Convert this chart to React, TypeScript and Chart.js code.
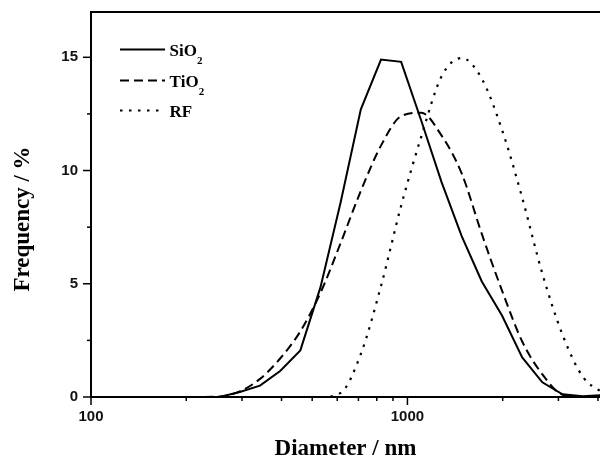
import React, { useEffect, useRef } from 'react';
import { Chart, registerables } from 'chart.js';

Chart.register(...registerables);

// Size bins (nm)
const sizes = [91.28, 105.7, 122.4, 141.8, 164.2, 190.1, 220.2, 255.0, 295.3, 342.0, 396.1, 458.7, 531.2, 615.1, 712.4, 825.0, 955.4, 1106, 1281, 1484, 1718, 1990, 2305, 2669, 3091, 3580, 4145];
// Frequency (%) per bin
const sio2 = [0, 0, 0, 0, 0, 0, 0, 0, 0.22, 0.5, 1.15, 2.06, 4.85, 8.6, 12.7, 14.9, 14.8, 12.2, 9.5, 7.1, 5.1, 3.6, 1.75, 0.65, 0.12, 0.03, 0.08];
const tio2 = [0, 0, 0, 0, 0, 0, 0, 0.02, 0.25, 0.8, 1.7, 2.9, 4.6, 6.8, 9.1, 11.1, 12.4, 12.55, 11.55, 9.87, 7.2, 4.7, 2.45, 1.0, 0.1, 0, 0];
const rf = [0, 0, 0, 0, 0, 0, 0, 0, 0, 0, 0, 0, 0, 0.18, 1.9, 4.9, 8.45, 11.5, 14.15, 14.97, 14.05, 11.8, 8.8, 5.45, 2.75, 0.9, 0.18];

const seriesLabels = ['SiO₂', 'TiO₂', 'RF'];
const xTickLabels = [100, 1000];
const yTickLabels = [0, 5, 10, 15];
const xTitle = 'Diameter / nm';
const yTitle = 'Frequency / %';

const SERIF = '"Liberation Serif", "Times New Roman", serif';
const SANS = '"Liberation Sans", Arial, sans-serif';
const SUBS = '₀₁₂₃₄₅₆₇₈₉';

const toPoints = (vals: number[]) => sizes.map((s, i) => ({ x: s, y: vals[i] }));

const decorPlugin = {
  id: 'decor',
  afterDraw(chart: any) {
    const { ctx, chartArea: a, scales } = chart;
    const xs = scales.x;
    const ys = scales.y;
    ctx.save();
    // top frame line
    ctx.strokeStyle = '#000';
    ctx.lineWidth = 2;
    ctx.setLineDash([]);
    ctx.beginPath();
    ctx.moveTo(a.left - 1, a.top);
    ctx.lineTo(a.right, a.top);
    ctx.stroke();

    // x ticks (major / minor)
    ctx.lineWidth = 1.5;
    xs.ticks.forEach((t: any) => {
      const v = t.value;
      const e = Math.floor(Math.log10(v) + 1e-9);
      const sig = v / Math.pow(10, e);
      if (Math.abs(sig - Math.round(sig)) > 1e-6) return;
      const major = Math.abs(sig - 1) < 1e-6;
      const px = xs.getPixelForValue(v);
      if (px > a.right + 0.5) return;
      ctx.beginPath();
      ctx.moveTo(px, a.bottom);
      ctx.lineTo(px, a.bottom + (major ? 8 : 4));
      ctx.stroke();
    });
    // y ticks
    ys.ticks.forEach((t: any) => {
      const v = t.value;
      if (Math.abs(v / 2.5 - Math.round(v / 2.5)) > 1e-6) return;
      const major = Math.abs(v / 5 - Math.round(v / 5)) < 1e-6;
      const py = ys.getPixelForValue(v);
      ctx.beginPath();
      ctx.moveTo(a.left, py);
      ctx.lineTo(a.left - (major ? 8 : 4), py);
      ctx.stroke();
    });

    // legend
    const rowY = [a.top + 37.5, a.top + 68.5, a.top + 98.5];
    chart.data.datasets.forEach((ds: any, i: number) => {
      const y = rowY[i];
      ctx.strokeStyle = ds.borderColor;
      ctx.lineWidth = ds.borderWidth;
      ctx.lineCap = 'butt';
      ctx.setLineDash(ds.borderDash || []);
      ctx.beginPath();
      ctx.moveTo(a.left + 29, y);
      ctx.lineTo(a.left + 74, y);
      ctx.stroke();
      ctx.setLineDash([]);
      ctx.fillStyle = '#000';
      ctx.textAlign = 'left';
      ctx.textBaseline = 'alphabetic';
      let x = a.left + 78.5;
      const base = y + 6;
      const label: string = ds.label;
      for (const ch of Array.from(label)) {
        const si = SUBS.indexOf(ch);
        if (si >= 0) {
          ctx.font = `bold 11px ${SERIF}`;
          const d = String(si);
          ctx.fillText(d, x, base + 8);
          x += ctx.measureText(d).width;
        } else {
          ctx.font = `bold 17px ${SERIF}`;
          ctx.fillText(ch, x, base);
          x += ctx.measureText(ch).width;
        }
      }
    });

    // y title
    ctx.translate(23, 219);
    ctx.rotate(-Math.PI / 2);
    ctx.font = `bold 23px ${SERIF}`;
    ctx.textAlign = 'center';
    ctx.textBaseline = 'middle';
    ctx.fillStyle = '#000';
    ctx.fillText(yTitle, 0, 0);
    ctx.restore();
  },
};

export default function App() {
  const ref = useRef<HTMLCanvasElement>(null);
  useEffect(() => {
    const chart = new Chart(ref.current as HTMLCanvasElement, {
      type: 'line',
      data: {
        datasets: [
          {
            label: seriesLabels[0],
            data: toPoints(sio2),
            borderColor: '#000',
            borderWidth: 2,
            tension: 0,
            pointRadius: 0,
            fill: false,
          },
          {
            label: seriesLabels[1],
            data: toPoints(tio2),
            borderColor: '#000',
            borderWidth: 2,
            borderDash: [9, 5],
            cubicInterpolationMode: 'monotone',
            pointRadius: 0,
            fill: false,
          },
          {
            label: seriesLabels[2],
            data: toPoints(rf),
            borderColor: '#000',
            borderWidth: 2.2,
            borderDash: [2.5, 6.5],
            cubicInterpolationMode: 'monotone',
            pointRadius: 0,
            fill: false,
          },
        ] as any,
      },
      options: {
        responsive: false,
        animation: false,
        layout: { padding: { top: 12, right: 0, left: 0, bottom: 0 } },
        plugins: { legend: { display: false }, tooltip: { enabled: false } },
        elements: { point: { radius: 0 } },
        scales: {
          x: {
            type: 'logarithmic',
            min: 100,
            max: 4060,
            afterFit: (s: any) => {
              s.height = 64;
              s.paddingLeft = 0;
              s.paddingRight = 0;
            },
            grid: { display: false, drawTicks: false },
            border: { display: true, color: '#000', width: 2 },
            ticks: {
              autoSkip: false,
              maxRotation: 0,
              minRotation: 0,
              padding: 11,
              color: '#111',
              font: { family: SANS, size: 15, weight: 'bold' },
              callback: (v: any) => (xTickLabels.includes(Number(v)) ? String(v) : ''),
            },
            title: {
              display: true,
              text: xTitle,
              color: '#000',
              font: { family: SERIF, size: 23, weight: 'bold', lineHeight: 1 },
              padding: { top: 0, bottom: 0 },
            },
          },
          y: {
            type: 'linear',
            min: 0,
            max: 17,
            afterFit: (s: any) => {
              s.width = 91;
              s.paddingTop = 0;
              s.paddingBottom = 0;
            },
            grid: { display: false, drawTicks: false },
            border: { display: true, color: '#000', width: 2 },
            ticks: {
              stepSize: 2.5,
              autoSkip: false,
              padding: 13,
              color: '#111',
              font: { family: SANS, size: 15, weight: 'bold' },
              callback: (v: any) => (yTickLabels.includes(Number(v)) ? String(v) : ''),
            },
          },
        },
      } as any,
      plugins: [decorPlugin],
    });
    return () => chart.destroy();
  }, []);
  return (
    <div style={{ position: 'fixed', left: 0, top: 0, width: 600, height: 461, background: '#fff' }}>
      <canvas ref={ref} width={600} height={461} style={{ display: 'block', width: 600, height: 461 }} />
    </div>
  );
}
